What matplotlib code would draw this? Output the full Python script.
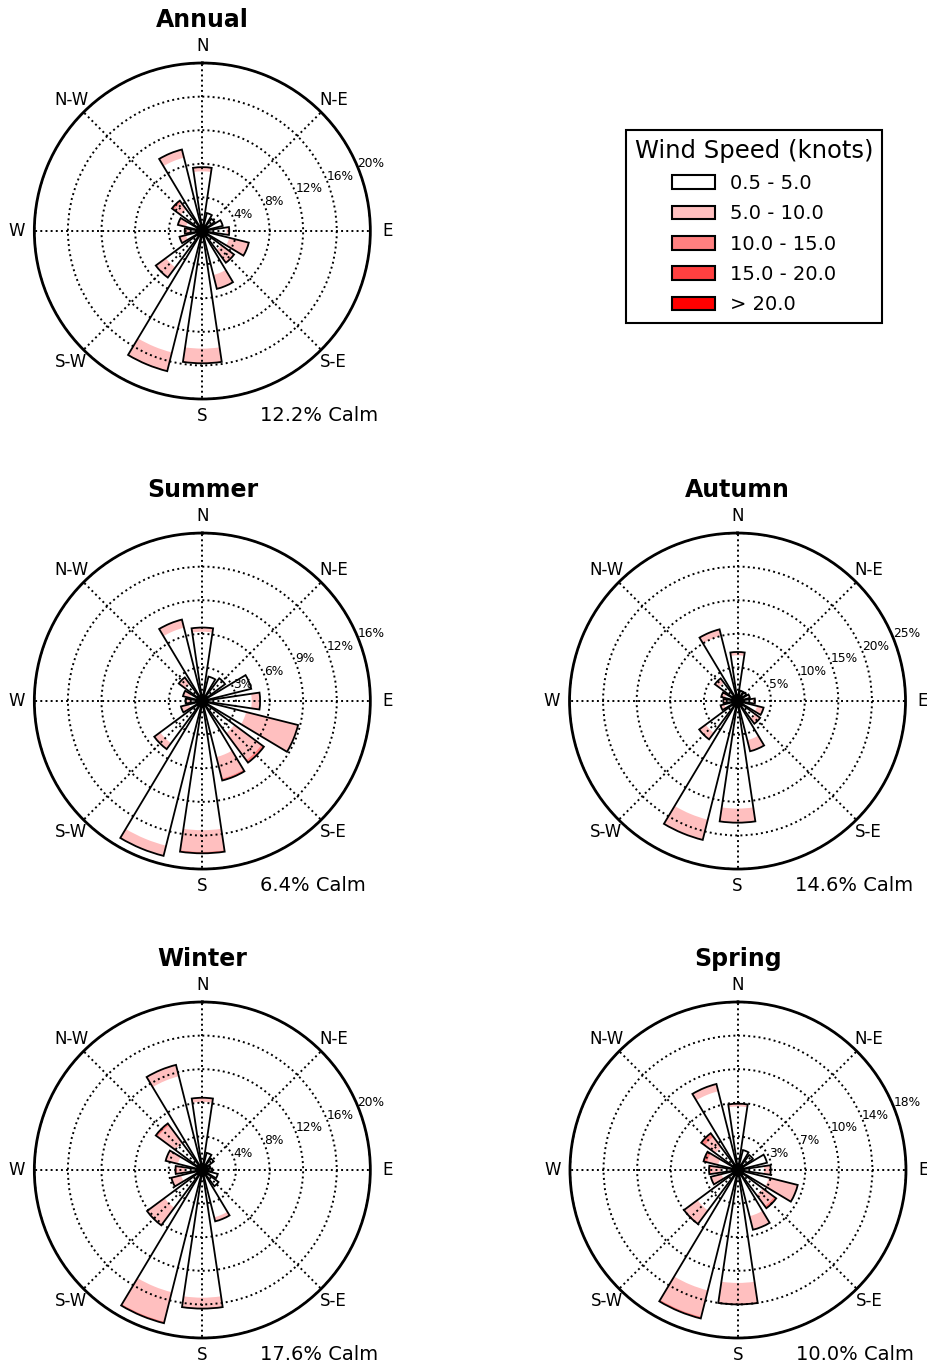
import numpy as np
import matplotlib
matplotlib.use("Agg")
import matplotlib.pyplot as plt
from matplotlib.patches import Patch

# directions: N, NNE, NE, ENE, E, ESE, SE, SSE, S, SSW, SW, WSW, W, WNW, NW, NNW
speed_labels = ['0.5 - 5.0', '5.0 - 10.0', '10.0 - 15.0', '15.0 - 20.0', '> 20.0']
speed_colors = ['#ffffff', '#ffbfbf', '#ff8080', '#ff4040', '#ff0000']
compass_labels = ['N', 'N-E', 'E', 'S-E', 'S', 'S-W', 'W', 'N-W']
zeros16 = [0.0] * 16

# frequency (%) per direction, one list per speed class
annual = [
    [7.1, 2.2, 1.8, 2.4, 2.9, 3.3, 2.8, 5.4, 14.0, 14.9, 5.4, 2.0, 1.5, 2.0, 3.2, 9.0],
    [0.5, 0.0, 0.0, 0.1, 0.3, 2.4, 1.8, 1.7, 1.65, 2.2, 1.5, 0.8, 0.6, 0.9, 1.0, 1.0],
    [0.0, 0.0, 0.0, 0.0, 0.0, 0.0, 0.1, 0.0, 0.1, 0.1, 0.0, 0.0, 0.0, 0.1, 0.3, 0.0],
    zeros16, zeros16,
]
summer = [
    [6.6, 2.4, 2.7, 4.8, 4.7, 4.3, 3.8, 5.5, 12.3, 14.2, 5.0, 1.3, 1.0, 1.2, 2.0, 7.2],
    [0.4, 0.0, 0.0, 0.0, 0.8, 5.1, 3.2, 2.1, 2.05, 1.0, 0.7, 0.8, 0.6, 0.7, 0.8, 0.8],
    [0.0, 0.0, 0.0, 0.0, 0.0, 0.0, 0.3, 0.2, 0.15, 0.0, 0.0, 0.0, 0.0, 0.0, 0.0, 0.0],
    zeros16, zeros16,
]
autumn = [
    [6.8, 1.6, 1.5, 1.7, 2.3, 3.0, 3.2, 6.0, 16.0, 18.2, 5.9, 2.0, 1.6, 1.9, 3.4, 10.0],
    [0.5, 0.0, 0.1, 0.2, 0.3, 1.0, 1.0, 1.7, 2.1, 3.1, 1.2, 0.6, 0.5, 0.6, 0.8, 1.0],
    zeros16, zeros16, zeros16,
]
winter = [
    [8.1, 2.1, 1.7, 1.0, 1.2, 1.9, 2.4, 5.8, 15.2, 15.0, 5.6, 2.6, 2.0, 3.0, 4.0, 11.5],
    [0.5, 0.0, 0.0, 0.0, 0.0, 0.0, 0.0, 0.5, 1.3, 3.6, 2.6, 1.2, 1.0, 1.5, 2.6, 1.4],
    [0.0, 0.0, 0.0, 0.0, 0.0, 0.0, 0.0, 0.0, 0.0, 0.2, 0.0, 0.0, 0.2, 0.0, 0.3, 0.0],
    zeros16, zeros16,
]
spring = [
    [6.8, 2.2, 2.0, 3.2, 2.8, 3.4, 3.3, 5.1, 12.1, 13.3, 5.4, 1.8, 1.8, 2.2, 3.0, 8.7],
    [0.3, 0.0, 0.0, 0.0, 0.7, 3.2, 1.5, 1.5, 2.2, 2.9, 1.8, 1.2, 1.1, 1.2, 1.4, 0.8],
    [0.0, 0.0, 0.0, 0.0, 0.0, 0.0, 0.3, 0.0, 0.1, 0.2, 0.0, 0.0, 0.2, 0.4, 0.5, 0.0],
    zeros16, zeros16,
]

titles = ['Annual', 'Summer', 'Autumn', 'Winter', 'Spring']
seasons = [annual, summer, autumn, winter, spring]
rmax = [20, 16, 25, 20, 18]
calm = [12.2, 6.4, 14.6, 17.6, 10.0]

# axes boxes (left, bottom) in figure fraction
w, h = 336 / 928, 336 / 1366
positions = [(0.0370, 0.7079), (0.0370, 0.3638), (0.6137, 0.3638),
             (0.0370, 0.0205), (0.6142, 0.0205)]

theta = np.deg2rad(np.arange(16) * 22.5)
width = np.deg2rad(22.5 * 0.75)

fig = plt.figure(figsize=(9.28, 13.66), dpi=100)

for title, data, rm, cl, pos in zip(titles, seasons, rmax, calm, positions):
    ax = fig.add_axes([pos[0], pos[1], w, h], projection='polar')
    ax.set_theta_zero_location('N')
    ax.set_theta_direction(-1)

    cum = np.zeros(16)
    for vals, col in zip(data, speed_colors):
        vals = np.array(vals)
        m = vals > 0
        if m.any():
            ax.bar(theta[m], vals[m], width=width, bottom=cum[m], color=col,
                   edgecolor='none', linewidth=0, zorder=1)
        cum = cum + vals
    # outline of each whole bar
    ax.bar(theta, cum, width=width, bottom=0, fill=False,
           edgecolor='black', linewidth=1.3, zorder=1.5)

    ax.set_ylim(0, rm)
    radii = np.linspace(0, rm, 6)[1:]
    ax.set_yticks(radii)
    ax.set_yticklabels([])
    for r in radii:
        ax.text(np.deg2rad(67.5), r, '%d%%' % int(r), ha='left', va='baseline',
                fontsize=8.8, zorder=5)

    ax.set_thetagrids(np.arange(0, 360, 45), compass_labels, fontsize=12)
    ax.tick_params(axis='x', pad=2)
    ax.set_axisbelow(False)
    ax.grid(True, linestyle=':', color='black', linewidth=1.4)
    ax.spines['polar'].set_linewidth(2.0)

    ax.text(0.5, 1.107, title, transform=ax.transAxes, ha='center',
            va='baseline', fontsize=17, fontweight='bold')
    ax.text(0.672, -0.065, '%.1f%% Calm' % cl, transform=ax.transAxes,
            ha='left', va='baseline', fontsize=14)

handles = [Patch(facecolor=c, edgecolor='black', linewidth=1.5) for c in speed_colors]
leg = fig.legend(handles=handles, labels=speed_labels, title='Wind Speed (knots)',
                 loc='upper left', bbox_to_anchor=(626 / 928, 1 - 130 / 1366),
                 fontsize=14, title_fontsize=17.5, fancybox=False, framealpha=1,
                 edgecolor='black', borderaxespad=0, handlelength=2.2,
                 labelspacing=0.58, borderpad=0.45)
leg.get_frame().set_linewidth(1.5)

fig.savefig('out.png', dpi=100)
